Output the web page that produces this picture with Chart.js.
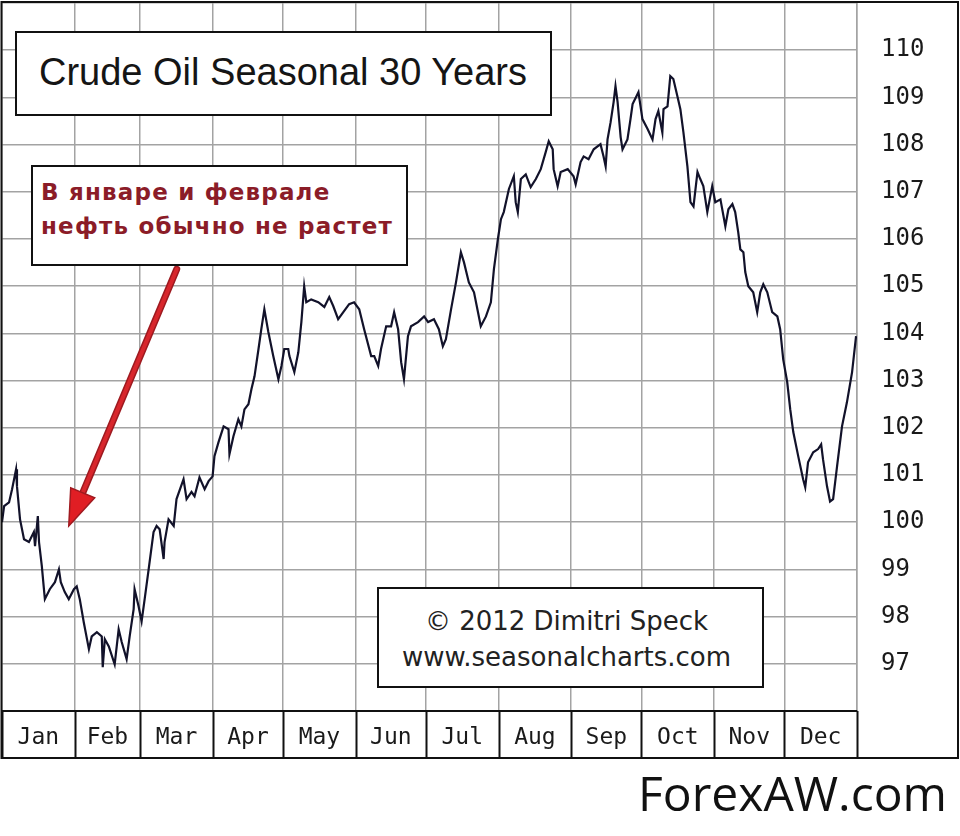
<!DOCTYPE html>
<html>
<head>
<meta charset="utf-8">
<script src="https://cdn.jsdelivr.net/npm/chart.js@4.4.0/dist/chart.umd.min.js"></script>
<style>
  body { margin: 0; background: #fff; }
  #wrap { position: relative; width: 960px; height: 836px; }
  .box { position: absolute; background: #fff; border: 2px solid #111; box-sizing: border-box; }
  #title { left: 15px; top: 31px; width: 537px; height: 85px; font: 38px "Liberation Sans", Arial, sans-serif; color: #151515; padding: 18px 0 0 22px; }
  #note { left: 31px; top: 165px; width: 377px; height: 101px; font: bold 23px "DejaVu Sans", sans-serif; color: #8b1c28; padding: 8px 0 0 8px; line-height: 34px; letter-spacing: 1.2px; }
  #copy { left: 377px; top: 587px; width: 387px; height: 101px; font: 26px "DejaVu Sans", sans-serif; color: #222; text-align: center; padding: 14px 8px 0 0; line-height: 36px; }
  #brand { position: absolute; right: 13px; top: 760px; font: 48px "Open Sans", sans-serif; color: #111; }
</style>
</head>
<body>
<div id="wrap">
  <canvas id="seasonal-chart" width="960" height="836"></canvas>
  <div class="box" id="title">Crude Oil Seasonal 30 Years</div>
  <div class="box" id="note">В январе и феврале<br>нефть обычно не растет</div>
  <div class="box" id="copy">© 2012 Dimitri Speck<br>www.seasonalcharts.com</div>
  <div id="brand">ForexAW.com</div>
</div>
<script>
// Month names and where each month starts (day of year)
var months = ["Jan","Feb","Mar","Apr","May","Jun","Jul","Aug","Sep","Oct","Nov","Dec"];
var monthStarts = [0,31,59,90,120,151,181,212,243,273,304,334,365];
var priceTicks = [97,98,99,100,101,102,103,104,105,106,107,108,109,110];

// Seasonal curve: day of year / price
var days = [0,0.9,3,4.3,6,6.4,7.7,9.4,11.5,13.6,14.1,15.3,15.8,17,17.9,18.3,20.4,22.6,24.3,25.1,
  26.8,28.5,30.7,31.9,33.2,34.9,37.1,38.3,40.5,42.6,43,43.9,45.6,48.1,49.8,51.1,53.2,54.5,56.2,56.6,
  58.3,59.6,60.9,62.6,64.7,66,67.3,69,69.4,71.1,73.3,74.5,77.5,78.8,80.9,82.2,84.3,86.5,88.2,89.9,
  90.7,92.4,94.6,96.7,97.1,98.8,100.9,102.2,103.5,105.2,106.5,107.8,109.5,110.7,112,113.7,115.8,118,119.3,120.5,
  122.2,122.7,124.8,126.5,127.8,129,129.9,132,135,137.6,139.7,141.4,143.5,145.7,148.2,150.3,152.5,154.6,157.6,158.9,
  160.6,161.8,164,166.1,167.4,169.1,170.4,171.6,173.3,174.6,177.6,180.2,181.9,184.4,186.5,188.2,189.5,191.7,193.8,195.9,
  197.2,199.3,201.5,203.2,204.4,206.6,208.7,210,211.7,213,214.2,216.4,218.5,219.3,220.2,221.5,223.6,224.9,225.7,227.9,
  230,232.1,233.4,235.1,235.5,237.2,238.5,241.5,244,244.9,247,248.3,250.4,252.6,255.5,256.8,257.7,258.5,259.8,261.1,
  261.9,262.8,264.1,264.9,267,268.3,269.2,271.7,273.4,275.6,277.7,279,280.2,281.9,282.4,284.1,285.3,286.6,288.3,289.6,
  290.9,292.6,293.9,295.2,296.9,298.1,299.4,301.1,303.2,304.5,306.7,308.8,310.1,311.8,313,314.3,315.2,316.5,317.3,318.6,
  320.7,322.4,323.7,325,326.7,328.8,331,332.2,333.5,335.2,336.5,337.8,339.9,342,342.9,344.1,346.3,348.4,349.7,350.5,
  352.2,353.5,354.8,356.5,358.6,360.7,362.9,364.6];
var prices = [100.00,100.34,100.42,100.70,101.12,100.76,100.06,99.64,99.58,99.79,99.49,100.13,99.58,99.07,98.58,98.37,98.58,98.73,99.00,98.73,
  98.52,98.37,98.58,98.64,98.37,97.88,97.31,97.58,97.67,97.58,96.93,97.52,97.37,96.99,97.73,97.46,97.10,97.58,98.16,98.58,
  98.22,97.90,98.37,99.00,99.79,99.92,99.85,99.22,99.58,100.06,99.92,100.49,100.91,100.49,100.64,100.55,100.95,100.70,100.87,100.97,
  101.40,101.69,102.03,101.97,101.44,101.82,102.18,102.03,102.39,102.50,102.82,103.09,103.67,104.09,104.51,104.03,103.52,103.03,103.31,103.67,
  103.67,103.52,103.18,103.60,104.24,105.00,104.66,104.72,104.66,104.56,104.77,104.58,104.30,104.45,104.62,104.66,104.51,104.09,103.52,103.52,
  103.31,103.67,104.15,104.15,104.45,104.09,103.39,103.03,103.94,104.15,104.24,104.36,104.24,104.30,104.09,103.73,103.88,104.51,105.08,105.72,
  105.51,105.08,104.87,104.45,104.15,104.36,104.66,105.36,106.00,106.42,106.57,107.06,107.33,106.78,106.57,107.27,107.37,107.20,107.10,107.27,
  107.48,107.84,108.07,107.90,107.48,107.12,107.42,107.48,107.33,107.16,107.63,107.75,107.69,107.90,108.01,107.75,107.54,108.11,108.47,108.90,
  109.24,108.90,108.16,107.90,108.11,108.54,108.86,109.11,108.54,108.33,108.11,108.54,108.71,108.26,108.75,108.81,109.45,109.39,109.03,108.75,
  108.26,107.54,106.78,106.69,107.42,107.27,107.12,106.57,107.12,106.78,106.84,106.27,106.63,106.74,106.57,106.14,105.78,105.72,105.30,105.00,
  104.87,104.45,104.87,105.04,104.87,104.45,104.36,104.09,103.45,102.97,102.39,101.91,101.40,100.91,100.74,101.27,101.48,101.55,101.65,101.33,
  100.76,100.44,100.49,101.19,102.03,102.54,103.18,103.94];

// Arrow annotation, from/to in chart values
var arrowFrom = {x: 74.6, y: 105.36};
var arrowTo = {x: 28.5, y: 99.92};

var points = [];
for (var i = 0; i < days.length; i++) {
    points.push({x: days[i], y: prices[i]});
}

var midDays = [];
for (var m = 0; m < 12; m++) {
    midDays.push((monthStarts[m] + monthStarts[m + 1]) / 2);
}

// no extra padding from tick labels, the plot must touch the frame
function noPad(scale) {
    scale.paddingTop = 0;
    scale.paddingBottom = 0;
    scale.paddingLeft = 0;
    scale.paddingRight = 0;
}

var frame = {
    id: 'frame',
    beforeDraw: function(chart) {
        var c = chart.ctx;
        c.save();
        c.fillStyle = '#fff';
        c.fillRect(0, 0, chart.width, chart.height);
        c.restore();
    },
    afterDraw: function(chart) {
        var c = chart.ctx;
        var xs = chart.scales.x, ys = chart.scales.y;
        var area = chart.chartArea;
        var rowBottom = area.bottom + 47;
        c.save();
        c.strokeStyle = '#111';
        c.lineWidth = 2;
        // month boxes below the plot
        c.beginPath();
        c.moveTo(area.left, area.bottom);
        c.lineTo(area.right, area.bottom);
        monthStarts.forEach(function(d) {
            var px = Math.round(xs.getPixelForValue(d)) + 0.5;
            c.moveTo(px, area.bottom);
            c.lineTo(px, rowBottom);
        });
        c.stroke();
        // outer frame
        c.strokeRect(1.5, 2, 956.5, rowBottom - 2);

        // red arrow
        var x1 = xs.getPixelForValue(arrowFrom.x), y1 = ys.getPixelForValue(arrowFrom.y);
        var x2 = xs.getPixelForValue(arrowTo.x), y2 = ys.getPixelForValue(arrowTo.y);
        var ang = Math.atan2(y2 - y1, x2 - x1);
        var headLen = 36, headW = 13;
        var bx = x2 - headLen * Math.cos(ang), by = y2 - headLen * Math.sin(ang);
        c.lineCap = 'round';
        c.strokeStyle = '#9e1a20';
        c.lineWidth = 7;
        c.beginPath();
        c.moveTo(x1, y1);
        c.lineTo(bx, by);
        c.stroke();
        c.strokeStyle = '#d8262c';
        c.lineWidth = 4;
        c.beginPath();
        c.moveTo(x1, y1);
        c.lineTo(bx, by);
        c.stroke();
        c.fillStyle = '#e01e24';
        c.strokeStyle = '#a01a20';
        c.lineWidth = 1.5;
        c.beginPath();
        c.moveTo(x2, y2);
        c.lineTo(bx + headW * Math.sin(ang), by - headW * Math.cos(ang));
        c.lineTo(bx - headW * Math.sin(ang), by + headW * Math.cos(ang));
        c.closePath();
        c.fill();
        c.stroke();
        c.restore();
    }
};

var ctx = document.getElementById('seasonal-chart');

var chartData = {
    datasets: [{
        label: 'Crude Oil Seasonal 30 Years',
        data: points,
        borderColor: '#12122a',
        borderWidth: 2.2,
        pointRadius: 0,
        tension: 0,
        fill: false
    }]
};

var config = {
    type: 'line',
    data: chartData,
    options: {
        responsive: false,
        animation: false,
        layout: { padding: { left: 2, top: 3, right: 0, bottom: 0 } },
        plugins: { legend: { display: false }, tooltip: { enabled: false } },
        scales: {
            x: {
                type: 'linear',
                min: 0,
                max: 365,
                afterBuildTicks: function(scale) {
                    var t = monthStarts.concat(midDays).sort(function(a, b) { return a - b; });
                    scale.ticks = t.map(function(v) { return {value: v}; });
                },
                afterFit: function(scale) { scale.height = 125; noPad(scale); },
                grid: {
                    drawTicks: false,
                    color: function(c) {
                        return (c.tick && monthStarts.indexOf(c.tick.value) >= 0) ? '#a3a3a3' : 'rgba(0,0,0,0)';
                    },
                    lineWidth: 1.5
                },
                border: { color: '#111', width: 2 },
                ticks: {
                    autoSkip: false,
                    maxRotation: 0,
                    padding: 13,
                    color: '#1a1a1a',
                    font: { family: 'DejaVu Sans Mono', size: 23 },
                    callback: function(v) {
                        var k = midDays.indexOf(v);
                        return k >= 0 ? months[k] : '';
                    }
                }
            },
            y: {
                position: 'right',
                min: 96,
                max: 111,
                afterBuildTicks: function(scale) {
                    var t = [96].concat(priceTicks).concat([111]);
                    scale.ticks = t.map(function(v) { return {value: v}; });
                },
                afterFit: function(scale) { scale.width = 103; noPad(scale); },
                grid: { drawTicks: false, color: '#a3a3a3', lineWidth: 1.5 },
                border: { color: '#a3a3a3', width: 1.5 },
                ticks: {
                    padding: 24,
                    color: '#1a1a1a',
                    font: { family: 'DejaVu Sans Mono', size: 24 },
                    callback: function(v) {
                        return priceTicks.indexOf(v) >= 0 ? String(v) : '';
                    }
                }
            }
        }
    },
    plugins: [frame]
};

var lineChart = new Chart(ctx, config);
</script>
</body>
</html>
